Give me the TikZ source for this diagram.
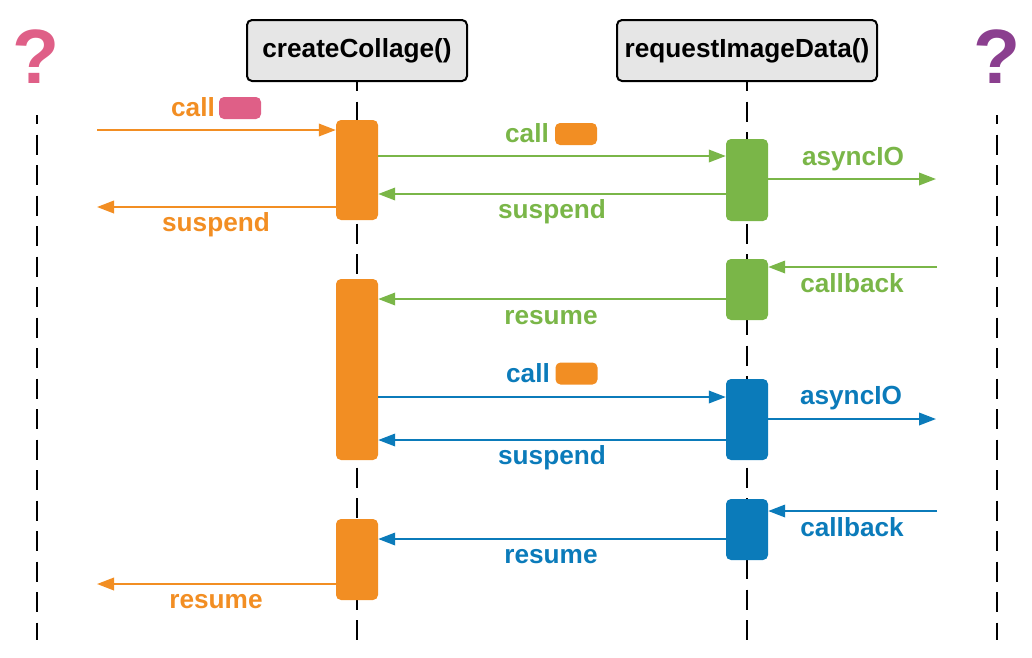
\documentclass[tikz,border=0pt]{standalone}
\usepackage{fontspec}
\setmainfont{Liberation Sans}
\usetikzlibrary{arrows.meta}
\definecolor{corange}{HTML}{F28E23}
\definecolor{cgreen}{HTML}{7AB648}
\definecolor{cblue}{HTML}{0B7BBA}
\definecolor{cpink}{HTML}{DF5F87}
\definecolor{cpurple}{HTML}{8B3F8F}
\definecolor{cgrey}{HTML}{E6E6E6}
\begin{document}
\begin{tikzpicture}[x=1pt,y=-1pt,
  life/.style={line width=2pt, dash pattern=on 20pt off 10.5pt, dash phase=11pt},
  head/.style={draw=black, line width=2pt, fill=cgrey, rounded corners=5pt, minimum height=61pt, font=\fontsize{26.2}{30}\selectfont\bfseries, inner sep=0pt},
  act/.style={rounded corners=5pt, minimum width=42pt, inner sep=0pt},
  msg/.style={line width=2pt, -{Triangle[length=17pt,width=12.5pt]}},
  lbl/.style={font=\fontsize{26.2}{30}\selectfont\bfseries, anchor=base, inner sep=0pt},
  badge/.style={rounded corners=5pt, minimum width=42pt, minimum height=22pt, inner sep=0pt},
  qm/.style={font=\fontsize{77}{80}\selectfont\bfseries, anchor=base, inner sep=0pt}
]
\useasboundingbox (0,0) rectangle (1032,657);
% question marks
\node[qm, text=cpink] (q1) at (36.5,83) {?};
\node[qm, text=cpurple] (q2) at (997,83) {?};
% headers
\node[head, minimum width=220pt] (h1) at (357,50.5) {createCollage()};
\node[head, minimum width=260pt] (h2) at (747,50.5) {requestImageData()};
% lifelines
\coordinate (L0) at (37,115); \coordinate (L1) at (37,640);
\coordinate (R0) at (997,115); \coordinate (R1) at (997,640);
\coordinate (C1) at (357,640); \coordinate (C2) at (747,640);
\draw[life] (L0) -- (L1);
\draw[life] (R0) -- (R1);
\draw[life] (h1.south) -- (C1);
\draw[life] (h2.south) -- (C2);
% activations
\node[act, fill=corange, minimum height=100pt] (a1) at (357,170) {};
\node[act, fill=corange, minimum height=181pt] (a2) at (357,369.5) {};
\node[act, fill=corange, minimum height=81pt] (a3) at (357,559.5) {};
\node[act, fill=cgreen, minimum height=82pt] (g1) at (747,180) {};
\node[act, fill=cgreen, minimum height=61pt] (g2) at (747,289.5) {};
\node[act, fill=cblue, minimum height=81pt] (b1) at (747,419.5) {};
\node[act, fill=cblue, minimum height=61pt] (b2) at (747,529.5) {};
% free ends
\coordinate (inL) at (97,130);
\coordinate (outL1) at (97,207);
\coordinate (outL3) at (97,584);
\coordinate (ag) at (936,179);
\coordinate (cg) at (937,267);
\coordinate (ab) at (936,419);
\coordinate (cb) at (937,511);
% messages
\draw[msg, corange] (inL) -- (a1.west |- inL);
\draw[msg, corange] (a1.west |- outL1) -- (outL1);
\draw[msg, cgreen] (a1.east |- 0,156) -- (g1.west |- 0,156);
\draw[msg, cgreen] (g1.west |- 0,194) -- (a1.east |- 0,194);
\draw[msg, cgreen] (g1.east |- ag) -- (ag);
\draw[msg, cgreen] (cg) -- (g2.east |- cg);
\draw[msg, cgreen] (g2.west |- 0,299) -- (a2.east |- 0,299);
\draw[msg, cblue] (a2.east |- 0,397) -- (b1.west |- 0,397);
\draw[msg, cblue] (b1.east |- ab) -- (ab);
\draw[msg, cblue] (b1.west |- 0,440) -- (a2.east |- 0,440);
\draw[msg, cblue] (cb) -- (b2.east |- cb);
\draw[msg, cblue] (b2.west |- 0,539) -- (a3.east |- 0,539);
\draw[msg, corange] (a3.west |- outL3) -- (outL3);
% labels
\node[lbl, text=corange] (t1) at (193,116) {call};
\node[badge, fill=cpink] (k1) at (240,108) {};
\node[lbl, text=corange] (t2) at (216,231) {suspend};
\node[lbl, text=cgreen] (t3) at (527,142) {call};
\node[badge, fill=corange] (k2) at (576,134) {};
\node[lbl, text=cgreen] (t4) at (552,218) {suspend};
\node[lbl, text=cgreen] (t5) at (853,165) {asyncIO};
\node[lbl, text=cgreen] (t6) at (852,292) {callback};
\node[lbl, text=cgreen] (t7) at (551,324) {resume};
\node[lbl, text=cblue] (t8) at (528,382) {call};
\node[badge, fill=corange] (k3) at (576.5,373.5) {};
\node[lbl, text=cblue] (t9) at (851,404) {asyncIO};
\node[lbl, text=cblue] (t10) at (552,464) {suspend};
\node[lbl, text=cblue] (t11) at (852,536) {callback};
\node[lbl, text=cblue] (t12) at (551,563) {resume};
\node[lbl, text=corange] (t13) at (216,608) {resume};
\end{tikzpicture}
\end{document}
